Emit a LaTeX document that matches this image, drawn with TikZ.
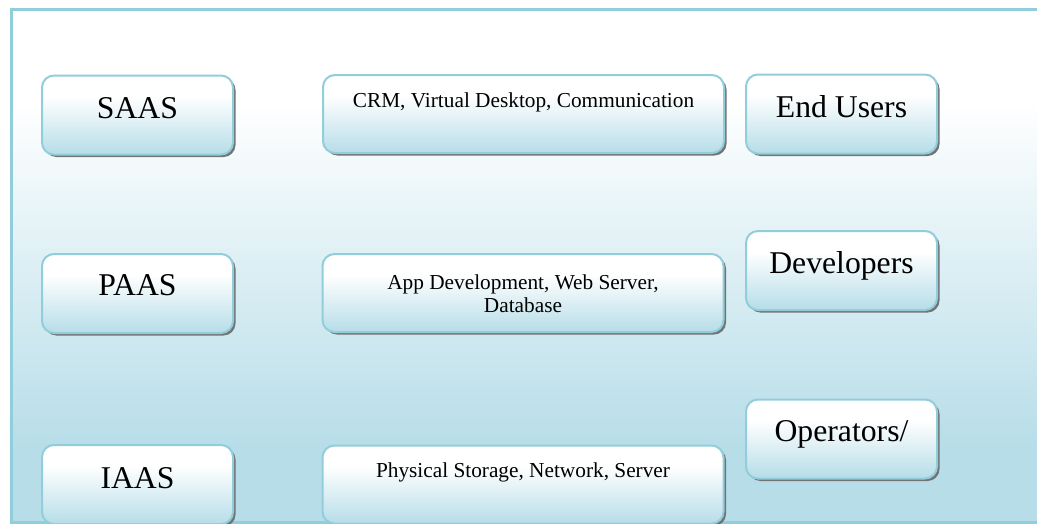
\documentclass[tikz,border=0pt]{standalone}
\usepackage{fontspec}
\setmainfont{Liberation Serif}
\usetikzlibrary{calc,shadows}
\definecolor{frameblue}{HTML}{92CDDC}
\definecolor{paleblue}{HTML}{B6DDE8}
\pgfdeclareverticalshading{bgshade}{100bp}{color(0bp)=(paleblue); color(32bp)=(paleblue); color(66bp)=(white); color(100bp)=(white)}
\pgfdeclareverticalshading{boxshade}{100bp}{color(0bp)=(paleblue); color(25bp)=(paleblue); color(62bp)=(white); color(100bp)=(white)}
\tikzset{
  lbox/.style={draw=frameblue, line width=2pt, rounded corners=12pt, shading=boxshade,
    drop shadow={shadow xshift=2.5pt, shadow yshift=-2.5pt, fill=black!55, opacity=1}},
  smallbox/.style={lbox, minimum width=191pt, minimum height=79pt, inner sep=0pt},
  widebox/.style={lbox, minimum width=401pt, minimum height=78pt, inner sep=0pt},
  bigtxt/.style={anchor=base, inner sep=0pt, font=\fontsize{31.7}{38}\selectfont},
  smalltxt/.style={inner sep=0pt, font=\fontsize{21.3}{23}\selectfont, align=center},
}
\begin{document}
\begin{tikzpicture}[x=1pt,y=-1pt]
\useasboundingbox (0,0) rectangle (1037,523);
\clip (0,0) rectangle (1037,523);
\fill[white] (0,0) rectangle (1037,523);
\draw[frameblue, line width=3pt, shading=bgshade] (11,9.5) rectangle (1060,522);

% boxes
\node[smallbox] (saas) at (137.5,115) {};
\node[widebox]  (crm)  at (523.5,114) {};
\node[smallbox] (end)  at (841.5,114) {};
\node[smallbox] (paas) at (137.5,293.5) {};
\node[widebox]  (app)  at (523,293) {};
\node[smallbox] (dev)  at (841.5,270.5) {};
\node[smallbox] (iaas) at (137.5,484.5) {};
\node[widebox]  (phys) at (523,484.5) {};
\node[smallbox] (oper) at (841.5,439) {};

% texts
\node[bigtxt] (saast) at ($(saas.north)+(0,44)$) {SAAS};
\node[smalltxt, anchor=base] (crmt) at ($(crm.north)+(0,33)$) {CRM, Virtual Desktop, Communication};
\node[bigtxt] (endt) at ($(end.north)+(0,44)$) {End Users};
\node[bigtxt] (paast) at ($(paas.north)+(0,42.5)$) {PAAS};
\node[smalltxt, anchor=center] (appt) at (523,293.3) {App Development, Web Server,\\Database};
\node[bigtxt] (devt) at ($(dev.north)+(0,43.5)$) {Developers};
\node[bigtxt] (iaast) at ($(iaas.north)+(0,44)$) {IAAS};
\node[smalltxt, anchor=base] (physt) at ($(phys.north)+(0,33)$) {Physical Storage, Network, Server};
\node[bigtxt] (opert) at ($(oper.north)+(0,43)$) {Operators/};
\end{tikzpicture}
\end{document}
